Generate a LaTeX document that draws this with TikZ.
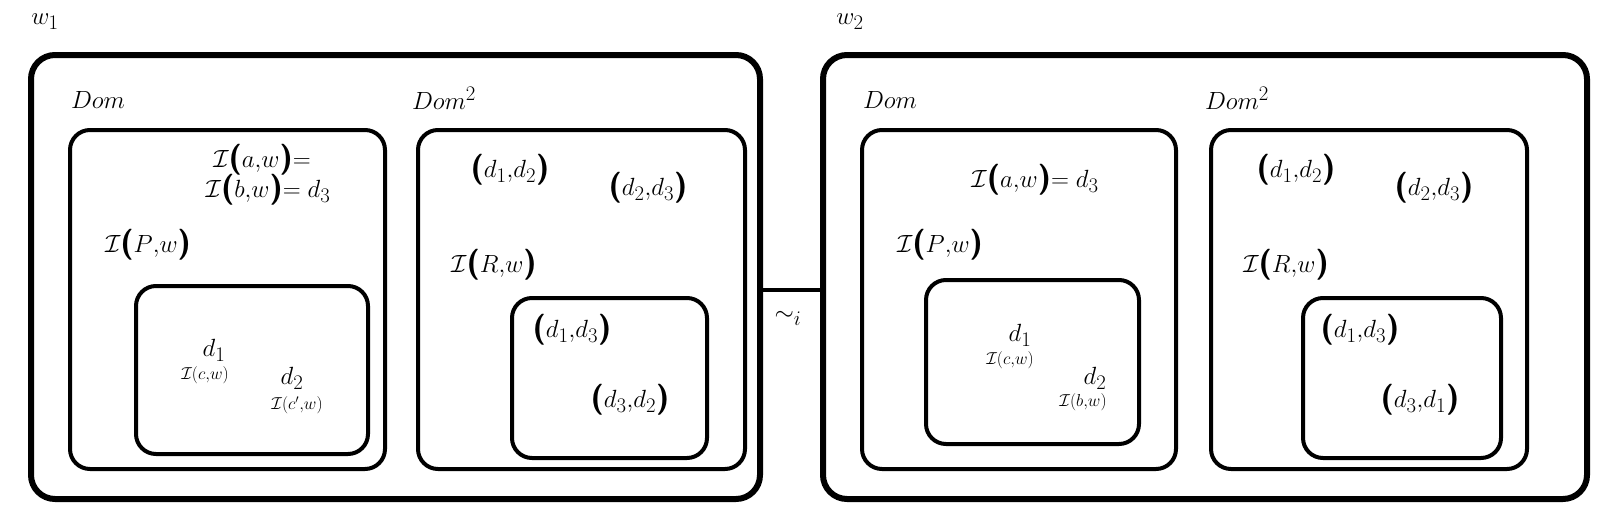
\documentclass[tikz,border=0pt]{standalone}
\usepackage{amsmath}
\newcommand{\pl}{\textsf{\bfseries(}}
\newcommand{\pr}{\textsf{\bfseries)}}
\begin{document}
\begin{tikzpicture}[x=1pt,y=-1pt,
  outer/.style={draw,line width=6pt,rounded corners=24pt},
  inner/.style={draw,line width=4pt,rounded corners=20pt},
  lab/.style={font=\fontsize{31}{36}\selectfont},
  sm/.style={font=\fontsize{17}{20}\selectfont}]
\useasboundingbox (0,0) rectangle (1612,530);
\node[outer,minimum width=729pt,minimum height=444pt,anchor=north west] (w1) at (28,52) {};
\node[outer,minimum width=764pt,minimum height=444pt,anchor=north west] (w2) at (820,52) {};
\node[inner,minimum width=315pt,minimum height=339pt,anchor=north west] (d1) at (68,128) {};
\node[inner,minimum width=232pt,minimum height=168pt,anchor=north west] (p1) at (134,284) {};
\node[inner,minimum width=327pt,minimum height=339pt,anchor=north west] (e1) at (416,128) {};
\node[inner,minimum width=195pt,minimum height=160pt,anchor=north west] (r1) at (510,296) {};
\node[inner,minimum width=314pt,minimum height=339pt,anchor=north west] (d2) at (860,128) {};
\node[inner,minimum width=213pt,minimum height=164pt,anchor=north west] (p2) at (924,278) {};
\node[inner,minimum width=316pt,minimum height=339pt,anchor=north west] (e2) at (1209,128) {};
\node[inner,minimum width=198pt,minimum height=160pt,anchor=north west] (r2) at (1301,296) {};
\draw[line width=4pt] (w1.east |- 0,290) -- (w2.west |- 0,290);
\node[lab] (sim) at (788,318) {$\sim_i$};
\node[lab] (lw1) at (45,22) {$w_1$};
\node[lab] (lw2) at (850,22) {$w_2$};
\node[lab] (t1) at (98,100) {$Dom$};
\node[lab] (t2) at (444,98) {$Dom^2$};
\node[lab] (t3) at (890,100) {$Dom$};
\node[lab] (t4) at (1237,98) {$Dom^2$};
% w1 Dom
\node[lab] (a1) at (262,160) {$\mathcal{I}$\pl$a{,}w$\pr$=$};
\node[lab] (a2) at (268,190) {$\mathcal{I}$\pl$b{,}w$\pr$=d_3$};
\node[lab] (a3) at (148,245) {$\mathcal{I}$\pl$P{,}w$\pr};
\node[lab] (a4) at (214,350) {$d_1$};
\node[sm] (a5) at (205,375) {$\mathcal{I}(c{,}w)$};
\node[lab] (a6) at (292,378) {$d_2$};
\node[sm] (a7) at (297,405) {$\mathcal{I}(c'{,}w)$};
% w1 Dom2
\node[lab] (b1) at (510,170) {\pl$d_1{,}d_2$\pr};
\node[lab] (b2) at (648,188) {\pl$d_2{,}d_3$\pr};
\node[lab] (b3) at (494,265) {$\mathcal{I}$\pl$R{,}w$\pr};
\node[lab] (b4) at (572,330) {\pl$d_1{,}d_3$\pr};
\node[lab] (b5) at (630,400) {\pl$d_3{,}d_2$\pr};
% w2 Dom
\node[lab] (c1) at (1035,180) {$\mathcal{I}$\pl$a{,}w$\pr$=d_3$};
\node[lab] (c2) at (940,245) {$\mathcal{I}$\pl$P{,}w$\pr};
\node[lab] (c3) at (1020,335) {$d_1$};
\node[sm] (c4) at (1010,360) {$\mathcal{I}(c{,}w)$};
\node[lab] (c5) at (1095,378) {$d_2$};
\node[sm] (c6) at (1083,402) {$\mathcal{I}(b{,}w)$};
% w2 Dom2
\node[lab] (e3) at (1296,170) {\pl$d_1{,}d_2$\pr};
\node[lab] (e4) at (1434,188) {\pl$d_2{,}d_3$\pr};
\node[lab] (e5) at (1286,265) {$\mathcal{I}$\pl$R{,}w$\pr};
\node[lab] (e6) at (1360,330) {\pl$d_1{,}d_3$\pr};
\node[lab] (e7) at (1420,400) {\pl$d_3{,}d_1$\pr};
\end{tikzpicture}
\end{document}
